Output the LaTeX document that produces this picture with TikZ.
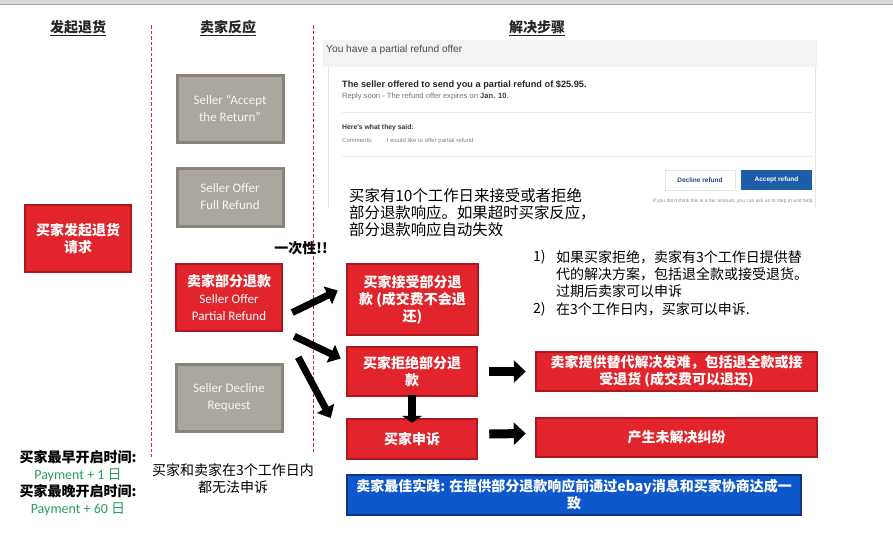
\documentclass[tikz,border=0pt]{standalone}
\usepackage{fontspec}
\setmainfont{Carlito}
\newfontfamily\cjk{Noto Sans CJK SC}
\newfontfamily\uifont{Liberation Sans}
\usepackage{xcolor}
\usepackage{tikz}
\usetikzlibrary{arrows.meta}
\definecolor{boxred}{RGB}{226,36,44}
\definecolor{boxredline}{RGB}{172,24,32}
\definecolor{boxgray}{RGB}{171,166,158}
\definecolor{boxgrayline}{RGB}{136,131,123}
\definecolor{boxblue}{RGB}{12,88,204}
\definecolor{boxblueline}{RGB}{18,52,130}
\definecolor{paygreen}{RGB}{40,160,90}
\definecolor{colline}{RGB}{210,40,64}
\definecolor{shotgray}{RGB}{243,243,243}
\definecolor{btnblue}{RGB}{30,94,168}

\begin{document}
\begin{tikzpicture}[x=1pt,y=-1pt,
		redbox/.style={draw=boxredline,fill=boxred,line width=2.5pt,text=white,align=center,inner sep=1pt,font=\cjk\bfseries\fontsize{14}{17}\selectfont},
		graybox/.style={draw=boxgrayline,fill=boxgray,line width=3pt,text=white!90!boxgray,align=center,minimum width=106pt,font=\fontsize{13}{17}\selectfont},
		head/.style={text=black!85,font=\cjk\bfseries\fontsize{14}{16}\selectfont},
		note/.style={align=center,font=\cjk\fontsize{14}{17}\selectfont},
		colsep/.style={draw=colline,dashed,dash pattern=on 3.5pt off 2pt,line width=1pt},
		bigarrow/.style={line width=7pt,-{Triangle[length=11pt,width=19pt]}},
		widearrow/.style={line width=9pt,-{Triangle[length=12pt,width=22pt]}},
		shottxt/.style={anchor=west,inner sep=0pt,font=\uifont\fontsize{#1}{#1}\selectfont},
	]
	\useasboundingbox (0,0) rectangle (893,558);
	\fill[black!15] (0,0) rectangle (893,4);
	\draw[black!35] (0,4) -- (893,4);

	\node[head] (hdInit) at (78,28) {\underline{发起退货}};
	\node[head] (hdSeller) at (228,28) {\underline{卖家反应}};
	\node[head] (hdSteps) at (537,28) {\underline{解决步骤}};
	\draw[colsep] (151,25) -- (151,457);
	\draw[colsep] (313,25) -- (313,454);

	% screenshot of the offer
	\fill[shotgray] (323,40) rectangle (817,67);
	\draw[black!10] (328,67) -- (328,208) (815,67) -- (815,208);
	\draw[black!8] (342,112) -- (812,112) (342,156) -- (812,156);
	\node[shottxt=10.2,text=black!70] (shotTitle) at (326,50) {You have a partial refund offer};
	\node[shottxt=9.2,text=black!85] (offerLine) at (342,85) {\bfseries The seller offered to send you a partial refund of \$25.95.};
	\node[shottxt=7.6,text=black!55] (replyLine) at (342,97) {Reply soon - The refund offer expires on {\bfseries\color{black!75}Jan. 10}.};
	\node[shottxt=6.8,text=black!80] (saidLine) at (342,128) {\bfseries Here's what they said:};
	\node[shottxt=6,text=black!50] (commLine) at (342,141) {Comments:\hspace{14pt}I would like to offer partial refund};
	\node[draw=black!10,fill=white,minimum width=70pt,minimum height=20pt,text=btnblue!80!black,font=\uifont\bfseries\fontsize{6.5}{6.5}\selectfont] (declBtn) at (700,180) {Decline refund};
	\node[fill=btnblue,minimum width=71pt,minimum height=20pt,text=white,font=\uifont\bfseries\fontsize{6.5}{6.5}\selectfont] (accBtn) at (776.5,180) {Accept refund};
	\node[anchor=east,inner sep=0pt,text=black!45,font=\uifont\fontsize{5}{5}\selectfont] (helpLine) at (814,201) {If you don't think this is a fair amount, you can ask us to step in and help.};
	\node[anchor=north west,fill=white,inner sep=2pt,align=left,font=\cjk\fontsize{15.4}{17}\selectfont] (tenDays) at (347,186) {买家有10个工作日来接受或者拒绝\\部分退款响应。如果超时买家反应，\\部分退款响应自动失效};

	\node[redbox,minimum width=106pt,minimum height=67pt] (initReq) at (78,238.5) {买家发起退货\\请求};
	\node[graybox,minimum height=67pt] (accRet) at (230,108.5) {Seller “Accept\\the Return”};
	\node[graybox,minimum height=58pt] (fullRef) at (230,197) {Seller Offer\\Full Refund};
	\node[redbox,minimum width=106pt,minimum height=67pt] (partRef) at (229,297.5) {卖家部分退款\\{\normalfont\fontsize{13}{17}\selectfont Seller Offer}\\{\normalfont\fontsize{13}{17}\selectfont Partial Refund}};
	\node[graybox,minimum height=67pt] (declReq) at (229,397.5) {Seller Decline\\Request};
	\node[font=\cjk\bfseries\fontsize{14}{16}\selectfont] (onceOnly) at (301,248) {一次性!!};

	\node[redbox,minimum width=131pt,minimum height=71pt] (buyAcc) at (412.5,299.5) {买家接受部分退\\款 (成交费不会退\\还)};
	\node[redbox,minimum width=130pt,minimum height=49pt] (buyDecl) at (412,371.5) {买家拒绝部分退\\款};
	\node[redbox,minimum width=130pt,minimum height=40pt] (buyAppeal) at (412,439) {买家申诉};
	\node[redbox,minimum width=281pt,minimum height=39pt] (sellAlt) at (676.5,371.5) {卖家提供替代解决发难，包括退全款或接\\受退货 (成交费可以退还)};
	\node[redbox,minimum width=281pt,minimum height=39pt] (dispute) at (676.5,437.5) {产生未解决纠纷};
	\node[redbox,draw=boxblueline,fill=boxblue,minimum width=454pt,minimum height=40pt] (bestPr) at (574,495) {卖家最佳实践: 在提供部分退款响应前通过ebay消息和买家协商达成一\\致};

	\node[anchor=north west,inner sep=0pt,font=\cjk\fontsize{14}{17}\selectfont] (num1) at (533,250) {1)};
	\node[anchor=north west,inner sep=0pt,align=left,font=\cjk\fontsize{14}{17}\selectfont] (item1) at (556,250) {如果买家拒绝，卖家有3个工作日提供替\\代的解决方案，包括退全款或接受退货。\\过期后卖家可以申诉};
	\node[anchor=north west,inner sep=0pt,font=\cjk\fontsize{14}{17}\selectfont] (num2) at (533,302) {2)};
	\node[anchor=north west,inner sep=0pt,font=\cjk\fontsize{14}{17}\selectfont] (item2) at (556,302) {在3个工作日内，买家可以申诉.};

	\node[note] (openTimes) at (78,483.5) {{\bfseries 买家最早开启时间:}\\{\normalfont\color{paygreen}Payment + 1 {\cjk 日}}\\{\bfseries 买家最晚开启时间:}\\{\normalfont\color{paygreen}Payment + 60 {\cjk 日}}};
	\node[note] (noAppeal) at (233,478.5) {买家和卖家在3个工作日内\\都无法申诉};

	\draw[bigarrow] ([shift={(9,15)}]partRef.east) -- ([shift={(-8,-9)}]buyAcc.west);
	\draw[bigarrow] ([shift={(11,4)}]partRef.south east) -- ([shift={(-5,-13)}]buyDecl.west);
	\draw[bigarrow] ([shift={(15,25)}]partRef.south east) -- ([shift={(-15,-21)}]buyAppeal.west);
	\draw[widearrow] ([xshift=11pt]buyDecl.east) -- ([xshift=-9pt]sellAlt.west);
	\draw[widearrow] ([shift={(11,-5)}]buyAppeal.east) -- ([shift={(-9,-4)}]dispute.west);
	\draw[line width=8pt,-{Triangle[length=7pt,width=20pt]}] ([yshift=2pt]buyDecl.south) -- ([yshift=-5pt]buyAppeal.north);
\end{tikzpicture}
\end{document}
